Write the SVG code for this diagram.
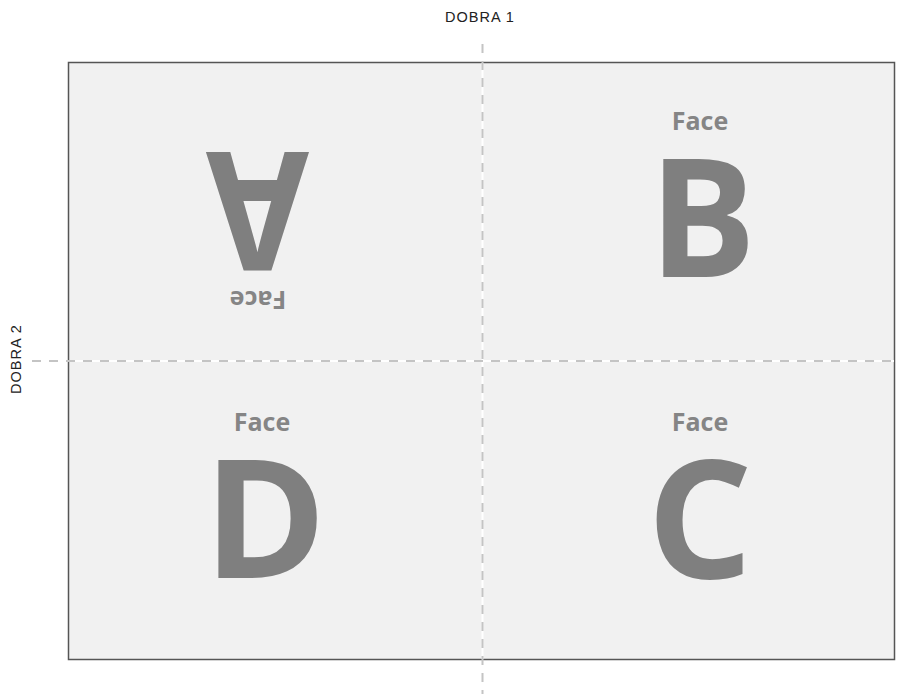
<svg xmlns="http://www.w3.org/2000/svg" width="899" height="700" viewBox="0 0 899 700">
<style>
.lbl{font-family:"Liberation Sans","Open Sans",sans-serif;font-size:14.5px;letter-spacing:1px;fill:#222;}
.big{font-family:"Open Sans","Liberation Sans",sans-serif;font-weight:bold;font-size:166px;fill:#7f7f7f;text-anchor:middle;}
.face{font-family:"Open Sans","Liberation Sans",sans-serif;font-weight:bold;font-size:25px;fill:#858585;text-anchor:middle;}
.under{stroke:#ffffff;stroke-width:2;fill:none;}
.fold{stroke:#c4c4c4;stroke-width:2;stroke-dasharray:9 8;fill:none;}
</style>
<rect id="sheet" x="68.5" y="62.5" width="826" height="597" fill="#f1f1f1" stroke="#555555" stroke-width="1.5"/>
<g id="folds">
<line class="under" x1="482.5" y1="63" x2="482.5" y2="659"/>
<line class="under" x1="69" y1="361" x2="894" y2="361"/>
<line class="fold" x1="482.5" y1="44" x2="482.5" y2="694"/>
<line class="fold" x1="32" y1="361" x2="894" y2="361"/>
</g>
<text class="lbl" x="480" y="21.5" text-anchor="middle">DOBRA 1</text>
<text class="lbl" x="0" y="0" text-anchor="middle" transform="translate(21 359) rotate(-90)">DOBRA 2</text>
<g id="panel-a">
<text class="big" x="0" y="0" transform="translate(257.5 211) rotate(180) scale(0.9 1) translate(0 59)">A</text>
<text class="face" x="258" y="309.5" transform="rotate(180 258 300)">Face</text>
</g>
<g id="panel-b">
<text class="face" x="700" y="130">Face</text>
<text class="big" x="0" y="0" transform="translate(702.5 277) scale(0.96 1)">B</text>
</g>
<g id="panel-d">
<text class="face" x="262" y="431">Face</text>
<text class="big" x="265" y="578">D</text>
</g>
<g id="panel-c">
<text class="face" x="700" y="431">Face</text>
<text class="big" x="700" y="578">C</text>
</g>
</svg>
